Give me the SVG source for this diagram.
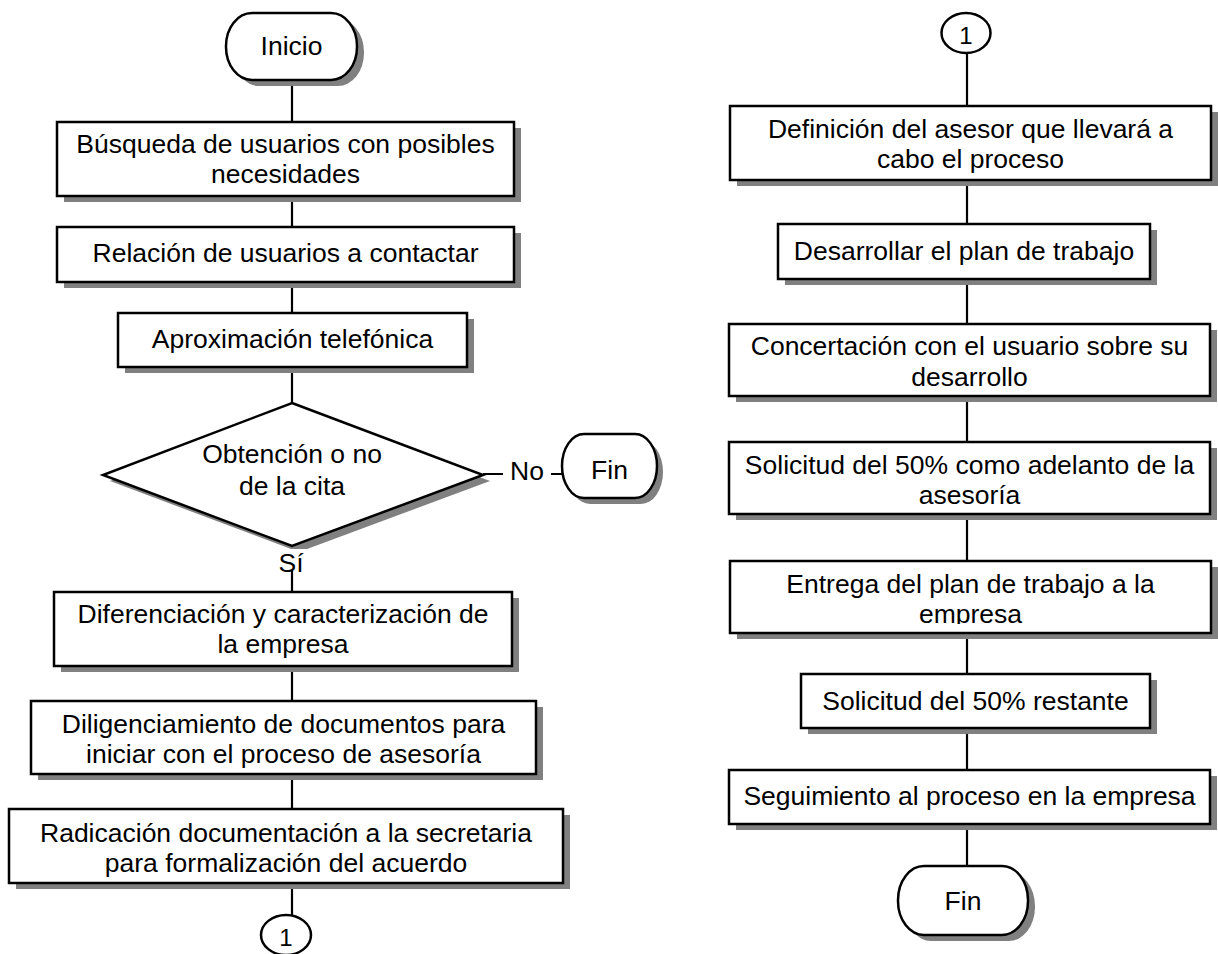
<svg xmlns="http://www.w3.org/2000/svg" width="1218" height="954" viewBox="0 0 1218 954">
<style>
.box{fill:#fff;stroke:#000;stroke-width:2.5}
.sh{fill:#808080;stroke:none}
.conn{stroke:#000;stroke-width:2.2;fill:none}
.t{font-family:"Liberation Sans",Arial,sans-serif;font-size:26.5px;text-anchor:middle;fill:#000}
.c{font-family:"Liberation Sans",Arial,sans-serif;font-size:24px;text-anchor:middle;fill:#000}
.lbl{fill:#fff;stroke:none}
</style>
<defs>
<clipPath id="clipEntrega"><rect x="730" y="561" width="481" height="63"/></clipPath>
</defs>
<rect x="0" y="0" width="1218" height="954" fill="#fff"/>
<g id="connectors">
<line class="conn" x1="292" y1="80" x2="292" y2="122"/>
<line class="conn" x1="292" y1="196" x2="292" y2="227"/>
<line class="conn" x1="292" y1="282" x2="292" y2="313"/>
<line class="conn" x1="292" y1="367" x2="292" y2="403"/>
<line class="conn" x1="292" y1="546" x2="292" y2="592"/>
<line class="conn" x1="483" y1="474" x2="562" y2="474"/>
<line class="conn" x1="292" y1="666" x2="292" y2="701"/>
<line class="conn" x1="292" y1="774" x2="292" y2="809"/>
<line class="conn" x1="292" y1="883" x2="292" y2="915"/>
<line class="conn" x1="967" y1="53" x2="967" y2="106"/>
<line class="conn" x1="967" y1="180" x2="967" y2="224"/>
<line class="conn" x1="967" y1="279" x2="967" y2="324"/>
<line class="conn" x1="967" y1="396" x2="967" y2="442"/>
<line class="conn" x1="967" y1="514" x2="967" y2="561"/>
<line class="conn" x1="967" y1="633" x2="967" y2="674"/>
<line class="conn" x1="967" y1="728" x2="967" y2="770"/>
<line class="conn" x1="967" y1="824" x2="967" y2="866"/>
</g>
<g id="inicio">
<rect class="sh" x="233" y="19" width="131" height="67" rx="26" ry="33"/>
<rect class="box" x="226" y="13" width="131" height="67" rx="26" ry="33"/>
<text class="t" x="291.5" y="55">Inicio</text>
</g>
<g id="busqueda">
<rect class="sh" x="64" y="128" width="457" height="74"/>
<rect class="box" x="57" y="122" width="457" height="74"/>
<text class="t" x="285.5" y="153">Búsqueda de usuarios con posibles</text>
<text class="t" x="285.5" y="183">necesidades</text>
</g>
<g id="relacion">
<rect class="sh" x="64" y="233" width="457" height="55"/>
<rect class="box" x="57" y="227" width="457" height="55"/>
<text class="t" x="285.5" y="262">Relación de usuarios a contactar</text>
</g>
<g id="aproximacion">
<rect class="sh" x="125" y="319" width="349" height="54"/>
<rect class="box" x="118" y="313" width="349" height="54"/>
<text class="t" x="292.5" y="348">Aproximación telefónica</text>
</g>
<g id="decision">
<polygon class="sh" points="299,409 490,481 299,552 110,481"/>
<polygon class="box" points="292,403 483,475 292,546 103,475"/>
<text class="t" x="292" y="463">Obtención o no</text>
<text class="t" x="292" y="495">de la cita</text>
</g>
<g id="label-si">
<rect class="lbl" x="277" y="549" width="32" height="22"/>
<text class="t" x="291" y="572">Sí</text>
</g>
<g id="label-no">
<rect class="lbl" x="503" y="458" width="48" height="28"/>
<text class="t" x="527" y="480">No</text>
</g>
<g id="fin1">
<rect class="sh" x="568" y="440" width="95" height="64" rx="22" ry="32"/>
<rect class="box" x="562" y="434" width="95" height="64" rx="22" ry="32"/>
<text class="t" x="609.5" y="479">Fin</text>
</g>
<g id="diferenciacion">
<rect class="sh" x="61" y="598" width="458" height="74"/>
<rect class="box" x="54" y="592" width="458" height="74"/>
<text class="t" x="283" y="623">Diferenciación y caracterización de</text>
<text class="t" x="283" y="653">la empresa</text>
</g>
<g id="diligenciamiento">
<rect class="sh" x="38" y="707" width="505" height="73"/>
<rect class="box" x="31" y="701" width="505" height="73"/>
<text class="t" x="283.5" y="733">Diligenciamiento de documentos para</text>
<text class="t" x="283.5" y="763">iniciar con el proceso de asesoría</text>
</g>
<g id="radicacion">
<rect class="sh" x="16" y="815" width="554" height="74"/>
<rect class="box" x="9" y="809" width="554" height="74"/>
<text class="t" x="286" y="842">Radicación documentación a la secretaria</text>
<text class="t" x="286" y="872">para formalización del acuerdo</text>
</g>
<g id="conector1-salida">
<ellipse class="box" cx="286" cy="935" rx="25" ry="20"/>
<text class="c" x="286" y="946">1</text>
</g>
<g id="conector1-entrada">
<ellipse class="box" cx="966" cy="33" rx="24.5" ry="20"/>
<text class="c" x="966" y="44">1</text>
</g>
<g id="definicion">
<rect class="sh" x="737" y="112" width="481" height="74"/>
<rect class="box" x="730" y="106" width="481" height="74"/>
<text class="t" x="970.5" y="138">Definición del asesor que llevará a</text>
<text class="t" x="970.5" y="168">cabo el proceso</text>
</g>
<g id="desarrollar">
<rect class="sh" x="785" y="230" width="372" height="55"/>
<rect class="box" x="778" y="224" width="372" height="55"/>
<text class="t" x="964" y="260">Desarrollar el plan de trabajo</text>
</g>
<g id="concertacion">
<rect class="sh" x="736" y="330" width="481" height="72"/>
<rect class="box" x="729" y="324" width="481" height="72"/>
<text class="t" x="969.5" y="355">Concertación con el usuario sobre su</text>
<text class="t" x="969.5" y="386">desarrollo</text>
</g>
<g id="solicitud-adelanto">
<rect class="sh" x="736" y="448" width="481" height="72"/>
<rect class="box" x="729" y="442" width="481" height="72"/>
<text class="t" x="969.5" y="474">Solicitud del 50% como adelanto de la</text>
<text class="t" x="969.5" y="504">asesoría</text>
</g>
<g id="entrega">
<rect class="sh" x="737" y="567" width="481" height="72"/>
<rect class="box" x="730" y="561" width="481" height="72"/>
<g clip-path="url(#clipEntrega)">
<text class="t" x="970.5" y="593">Entrega del plan de trabajo a la</text>
<text class="t" x="970.5" y="623">empresa</text>
</g>
</g>
<g id="solicitud-restante">
<rect class="sh" x="808" y="680" width="349" height="54"/>
<rect class="box" x="801" y="674" width="349" height="54"/>
<text class="t" x="975.5" y="710">Solicitud del 50% restante</text>
</g>
<g id="seguimiento">
<rect class="sh" x="736" y="776" width="481" height="54"/>
<rect class="box" x="729" y="770" width="481" height="54"/>
<text class="t" x="969.5" y="805">Seguimiento al proceso en la empresa</text>
</g>
<g id="fin2">
<rect class="sh" x="905" y="872" width="130" height="69" rx="26" ry="34"/>
<rect class="box" x="898" y="866" width="130" height="69" rx="26" ry="34"/>
<text class="t" x="963" y="910">Fin</text>
</g>
</svg>
